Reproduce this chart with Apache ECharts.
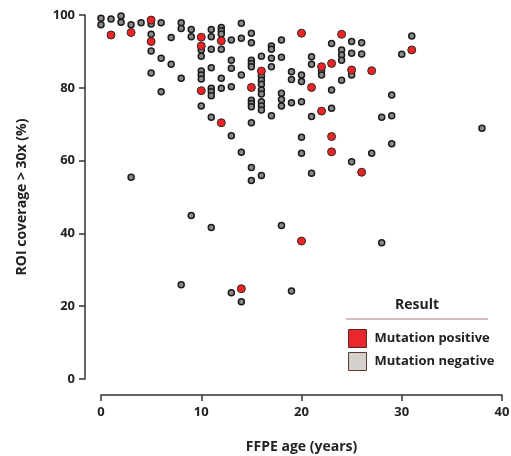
<!DOCTYPE html>
<html>
<head>
<meta charset="utf-8">
<script src="https://cdn.jsdelivr.net/npm/echarts@6/dist/echarts.min.js"></script>
<style>
html,body{margin:0;padding:0;background:#fff;}
#chart{width:511px;height:456px;}
</style>
</head>
<body>
<div id="chart"></div>
<script>
// FFPE age (years), ROI coverage > 30x (%)
const negativeAge = [0,0,1,2,2,3,3,4,5,5,5,5,6,6,6,7,7,8,8,8,8,9,9,9,
  10,10,10,10,10,10,11,11,11,11,11,11,11,11,11,12,12,12,12,12,12,
  13,13,13,13,13,13,14,14,14,14,14,15,15,15,15,15,15,15,15,15,15,15,
  16,16,16,16,16,16,16,16,16,16,17,17,17,17,17,18,18,18,18,18,18,
  19,19,19,19,20,20,20,20,20,21,21,21,21,22,22,23,23,23,24,24,24,24,
  25,25,25,25,26,26,27,28,28,29,29,29,30,31,38];
const negativeCov = [99.1,97.3,98.9,99.7,98.0,97.3,55.4,97.9,97.5,94.7,90.1,84.1,97.9,88.1,78.9,93.8,86.5,97.9,96.3,82.6,25.9,96.0,94.0,44.9,
  90.4,88.7,84.6,83.5,82.4,75.0,96.0,94.0,90.6,85.5,79.9,78.9,77.8,71.9,41.6,96.6,95.7,94.8,90.6,82.6,79.9,
  93.1,87.6,85.4,80.3,66.8,23.7,97.7,93.6,83.5,62.3,21.2,95.0,92.4,87.6,86.7,85.8,76.6,75.7,74.8,70.4,58.1,54.5,
  88.7,83.2,82.1,81.0,79.4,78.3,76.2,75.0,73.9,55.9,91.5,90.6,88.1,85.8,72.3,93.1,88.4,78.5,76.8,75.0,42.2,
  84.4,82.3,75.9,24.2,83.5,81.7,76.2,66.4,62.0,88.5,86.5,72.1,56.5,84.7,83.5,92.2,79.4,74.4,90.4,89.0,87.6,82.1,
  92.7,89.5,83.5,59.7,92.4,89.3,62.0,71.9,37.4,78.0,72.3,64.6,89.2,94.2,68.9];
const positiveAge = [1,3,5,5,10,10,10,12,12,14,15,16,20,20,21,22,22,23,23,23,24,25,26,27,31];
const positiveCov = [94.5,95.2,98.6,92.7,93.9,91.5,79.2,92.9,70.4,24.8,80.1,84.6,95.0,37.9,80.1,85.8,73.6,86.7,66.6,62.4,94.7,84.9,56.8,84.7,90.4];
const xTicks = [0,10,20,30,40];
const yTicks = [0,20,40,60,80,100];
const seriesNames = ['Mutation positive','Mutation negative'];
const legendTitle = 'Result';

const pairs = (xs, ys) => xs.map((x, i) => [x, ys[i]]);
const FONT = "'Open Sans', 'DejaVu Sans', sans-serif";
const chart = echarts.init(document.getElementById('chart'), null, {renderer: 'canvas'});
chart.setOption({
  animation: false,
  backgroundColor: '#ffffff',
  grid: {left: 101, right: 9, top: 15, bottom: 77, containLabel: false, outerBoundsMode: 'none'},
  xAxis: {
    type: 'value', min: 0, max: 40, interval: 10, offset: 16,
    name: 'FFPE age (years)', nameLocation: 'middle', nameGap: 45,
    nameTextStyle: {fontFamily: FONT, fontSize: 14, fontWeight: 'bold', color: '#222'},
    axisLine: {show: true, onZero: false, lineStyle: {color: '#333', width: 1.5}},
    axisTick: {show: true, length: 6, lineStyle: {color: '#333', width: 1.5}},
    axisLabel: {fontFamily: FONT, fontSize: 13, fontWeight: 'bold', color: '#222', margin: 11,
      formatter: v => xTicks.includes(v) ? String(v) : ''},
    splitLine: {show: false}
  },
  yAxis: {
    type: 'value', min: 0, max: 100, interval: 20, offset: 16,
    name: 'ROI coverage > 30x (%)', nameLocation: 'middle', nameGap: 56, nameRotate: 90,
    nameTextStyle: {fontFamily: FONT, fontSize: 14, fontWeight: 'bold', color: '#222'},
    axisLine: {show: true, onZero: false, lineStyle: {color: '#333', width: 1.5}},
    axisTick: {show: true, length: 6, lineStyle: {color: '#333', width: 1.5}},
    axisLabel: {fontFamily: FONT, fontSize: 13, fontWeight: 'bold', color: '#222', margin: 10,
      formatter: v => yTicks.includes(v) ? String(v) : ''},
    splitLine: {show: false}
  },
  legend: {
    orient: 'vertical', left: 343, top: 324, itemWidth: 18, itemHeight: 18, itemGap: 4,
    icon: 'rect',
    textStyle: {fontFamily: FONT, fontSize: 13, fontWeight: 'bold', color: '#222', padding: [0, 0, 0, 3]},
    data: [
      {name: seriesNames[0], itemStyle: {color: '#e8282c', borderColor: '#5a2a22', borderWidth: 1, opacity: 1}},
      {name: seriesNames[1], itemStyle: {color: '#d4d0cb', borderColor: '#5a3a30', borderWidth: 1, opacity: 1}}
    ]
  },
  graphic: [
    {type: 'text', left: 395, top: 298, style: {text: legendTitle, fontFamily: FONT, fontSize: 14, fontWeight: 'bold', fill: '#222'}},
    {type: 'line', shape: {x1: 346, y1: 319, x2: 488, y2: 319}, style: {stroke: '#c9a6a6', lineWidth: 1.5}}
  ],
  series: [
    {
      name: seriesNames[1], type: 'scatter', data: pairs(negativeAge, negativeCov),
      symbol: 'circle', symbolSize: 6, z: 2,
      itemStyle: {color: '#8a8a8a', borderColor: '#1a1a1a', borderWidth: 1.5, opacity: 1}
    },
    {
      name: seriesNames[0], type: 'scatter', data: pairs(positiveAge, positiveCov),
      symbol: 'circle', symbolSize: 8, z: 3,
      itemStyle: {color: '#ee2323', borderColor: '#2a2a2a', borderWidth: 1, opacity: 1}
    }
  ]
});
</script>
</body>
</html>
